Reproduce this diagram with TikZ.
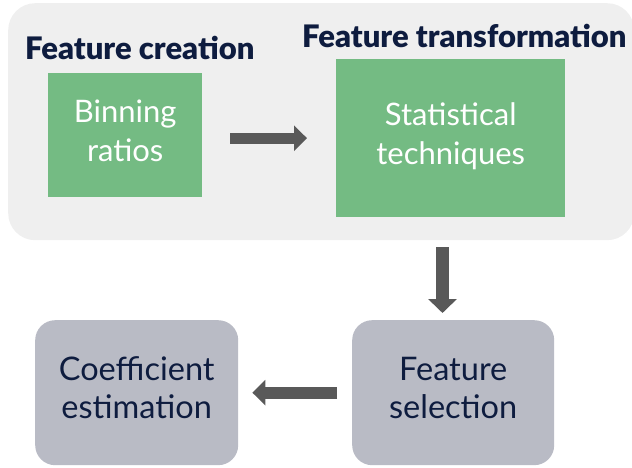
\documentclass[tikz,border=0pt]{standalone}
\usepackage{fontspec}
\setmainfont{Lato}
\newfontfamily\headfont{Lato Black}
\usetikzlibrary{arrows.meta}
\definecolor{panelgray}{HTML}{EFEFEF}
\definecolor{stepgreen}{HTML}{74BB83}
\definecolor{stepgray}{HTML}{B9BBC5}
\definecolor{navy}{HTML}{0E1C3F}
\definecolor{arrowgray}{HTML}{595959}
\tikzset{
  greenbox/.style={fill=stepgreen, text=white, align=center, inner sep=0pt,
    text depth=9.5pt, font=\fontsize{31}{39}\selectfont},
  graybox/.style={fill=stepgray, text=navy, align=center, inner sep=0pt,
    text depth=9.5pt, rounded corners=20pt, font=\fontsize{32.5}{38}\selectfont},
  heading/.style={text=navy, inner sep=0pt, anchor=base west,
    font=\fontsize{31}{36}\selectfont\headfont},
  bigarrow/.style={draw=arrowgray, line width=12pt,
    -{Triangle[width=25pt,length=13pt]}, arrowgray},
}
\begin{document}
\begin{tikzpicture}[x=1pt,y=-1pt]
\useasboundingbox (0,0) rectangle (632,468);
% light background panel grouping the first two steps
\node[fill=panelgray, rounded corners=27pt, inner sep=0pt, minimum width=626pt,
  minimum height=237pt, anchor=north west] (panel) at (8,3) {};

\node[heading] (hcreate) at (25,60) {Feature creation};
\node[heading] (htrans) at (302,48) {Feature transformation};

\node[greenbox, minimum width=154pt, minimum height=124pt, anchor=north west]
  (binning) at (48,73) {Binning\\ratios};
\node[greenbox, minimum width=229pt, minimum height=158pt, anchor=north west]
  (stats) at (336,59) {Statistical\\techniques};

\node[graybox, minimum width=202pt, minimum height=145pt, anchor=north west]
  (select) at (352,320) {Feature\\selection};
\node[graybox, minimum width=203pt, minimum height=145pt, anchor=north west]
  (coef) at (35,320) {Coefficient\\estimation};

% flow arrows
\draw[bigarrow, line width=11pt, shorten <=28pt, shorten >=29pt]
  (binning.east |- stats.west) -- (stats.west);
\coordinate (down) at (442.5,247);
\draw[bigarrow, line width=13pt, -{Triangle[width=28pt,length=14pt]}, shorten >=7pt]
  (down) -- (down |- select.north);
\draw[bigarrow, shorten <=15pt, shorten >=14pt] (select.west) -- (coef.east);
\end{tikzpicture}
\end{document}
